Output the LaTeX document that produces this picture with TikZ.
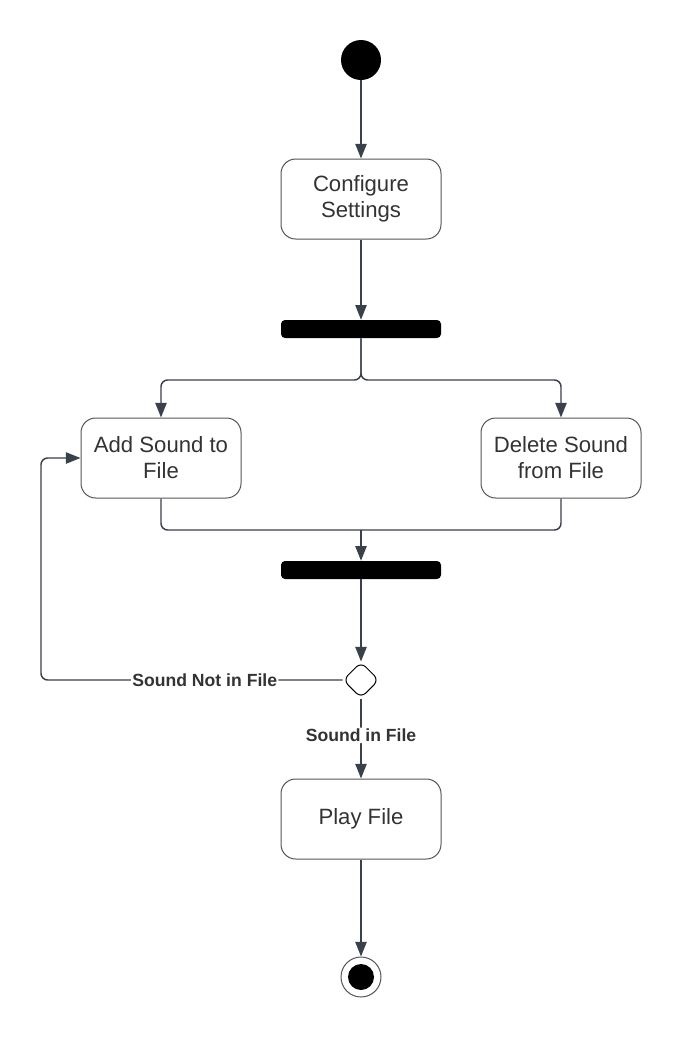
\documentclass[tikz,border=0pt]{standalone}
\usepackage{fontspec}
\setmainfont{Liberation Sans}
\usetikzlibrary{arrows.meta,shapes.geometric}
\definecolor{linegray}{HTML}{3A414A}
\definecolor{boxgray}{HTML}{555555}
\definecolor{textgray}{HTML}{333333}
\tikzstyle{activity}=[draw=boxgray,line width=0.75pt,rounded corners=11pt,minimum width=120pt,minimum height=60pt,align=center,text=textgray,font=\fontsize{16.6}{19.5}\selectfont]
\tikzstyle{bar}=[fill=black,rounded corners=3pt,minimum width=120pt,minimum height=13.5pt,inner sep=0pt]
\tikzstyle{flow}=[draw=linegray,line width=1.1pt,-{Triangle[length=11pt,width=8.5pt]}]
\tikzstyle{plain}=[draw=linegray,line width=1.1pt]
\tikzstyle{guard}=[fill=white,inner sep=1pt,text=textgray,font=\fontsize{13.2}{15}\selectfont\bfseries]
\newcommand{\flowedge}[4]{ \draw[flow] (#1) -- node[#2] {#3} (#4);}

\begin{document}
\begin{tikzpicture}[x=0.75pt,y=-0.75pt,rounded corners=5pt]
    \useasboundingbox (0,0) rectangle (681,1040);

    \node[circle,fill=black,minimum size=30pt,inner sep=0pt] (start) at (361,60) {};
    \node[activity] (config) at (361,199) {Configure\\Settings};
    \node[bar] (fork) at (361,329) {};
    \node[activity] (add) at (161,458) {Add Sound to\\File};
    \node[activity] (delete) at (561,458) {Delete Sound\\from File};
    \node[bar] (join) at (361,570) {};
    \node[diamond,draw=black,line width=0.75pt,fill=white,minimum width=27pt,minimum height=27pt,inner sep=0pt] (check) at (361,680) {};
    \node[activity] (play) at (361,819) {Play File};
    \node[circle,draw=boxgray,line width=0.75pt,minimum size=30pt,inner sep=0pt] (stop) at (361,977) {};
    \fill[black] (stop.center) circle (9.75pt);

    \coordinate (split) at (361,380);
    \coordinate (merge) at (361,530);
    \coordinate (back) at (41,680);

    \flowedge{start}{}{}{config}
    \flowedge{config}{}{}{fork}
    \draw[flow] (fork) -- (split) -| (add);
    \draw[flow] (fork) -- (split) -| (delete);
    \draw[plain] (add) |- (merge);
    \draw[plain] (delete) |- (merge);
    \draw[flow] (merge) -- (join);
    \flowedge{join}{}{}{check}
    \draw[flow] (check) -- node[guard,pos=0.457] {Sound Not in File} (back) |- (add);
    \draw[flow] (check) -- node[guard,pos=0.46] {Sound in File} (play);
    \flowedge{play}{}{}{stop}
\end{tikzpicture}
\end{document}
